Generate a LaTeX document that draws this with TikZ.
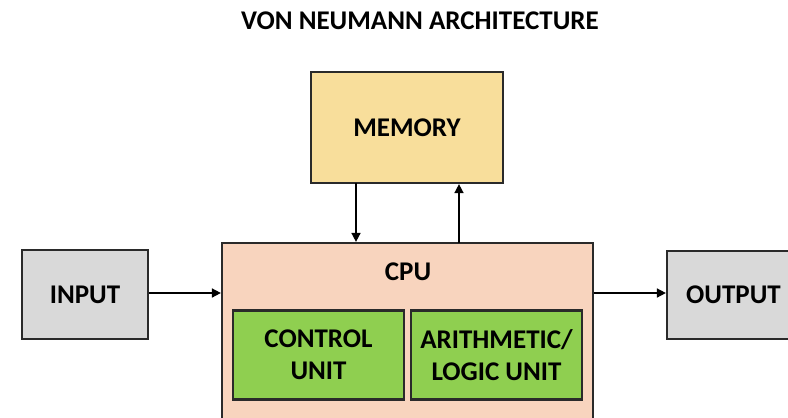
\documentclass[tikz,border=0pt]{standalone}
\usepackage{fontspec}
\setmainfont{Carlito}
\usetikzlibrary{arrows.meta}
\definecolor{memfill}{HTML}{F8DE9B}
\definecolor{cpufill}{HTML}{F8D4BE}
\definecolor{unitfill}{HTML}{8FCF50}
\definecolor{iofill}{HTML}{D9D9D9}
\definecolor{edge}{HTML}{2A2A2A}
\begin{document}
\begin{tikzpicture}[x=1pt,y=-1pt,
  box/.style={draw=edge,line width=2.2pt,rectangle,inner sep=0pt,align=center,
    font=\fontsize{27}{32}\selectfont\bfseries,text=black},
  lbl/.style={inner sep=0pt,font=\fontsize{27}{32}\selectfont\bfseries,text=black},
  conn/.style={draw=black,line width=1.6pt,-{Triangle[length=9pt,width=9pt]}}]
\useasboundingbox (0,0) rectangle (788,418);
\clip (0,0) rectangle (788,418);
\node[lbl] (title) at (420,21) {VON NEUMANN ARCHITECTURE};
\node[box,fill=memfill,minimum width=192pt,minimum height=111pt] (mem) at (407,127.5) {MEMORY};
\node[box,fill=cpufill,minimum width=371pt,minimum height=187pt] (cpu) at (407.5,336.5) {};
\node[lbl] (cpulbl) at (408,272) {CPU};
\node[box,fill=unitfill,minimum width=171pt,minimum height=89pt] (ctrl) at (318.5,355) {CONTROL\\UNIT};
\node[box,fill=unitfill,minimum width=171pt,minimum height=89pt] (alu) at (496.5,355) {ARITHMETIC/\\LOGIC UNIT};
\node[box,fill=iofill,minimum width=126pt,minimum height=89pt] (in) at (85,294.5) {INPUT};
\node[box,fill=iofill,minimum width=133pt,minimum height=88pt] (out) at (733.5,295) {OUTPUT};
\coordinate (downtop) at (356,183);
\coordinate (upbot) at (459,243);
\draw[conn] (downtop) -- (downtop |- cpu.north);
\draw[conn] (upbot) -- (upbot |- mem.south);
\draw[conn] (in.east |- 0,293) -- (cpu.west |- 0,293);
\draw[conn] (cpu.east |- 0,293) -- (out.west |- 0,293);
\end{tikzpicture}
\end{document}
